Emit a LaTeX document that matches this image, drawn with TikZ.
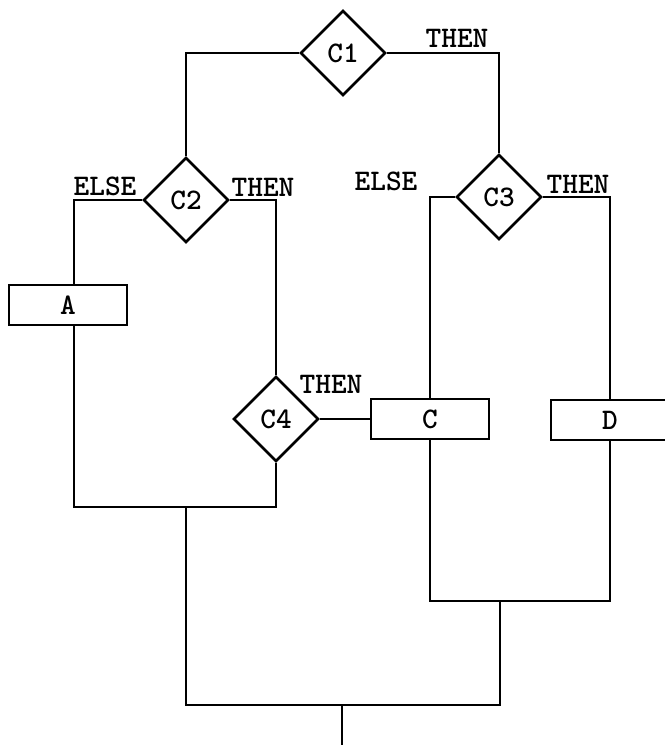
\documentclass[tikz,border=0pt]{standalone}
\usepackage{fontspec}
\usepackage{tikz}
\usetikzlibrary{shapes.geometric}
\tikzset{cond/.style={draw, diamond, aspect=1, minimum size=1.7cm, inner sep=0pt, font=\ttfamily\bfseries\fontsize{17}{17}\selectfont}}
\tikzset{blk/.style={draw, rectangle, minimum width=2.36cm, minimum height=0.8cm, inner sep=0pt, font=\ttfamily\bfseries\fontsize{17}{17}\selectfont}}
\tikzset{lbl/.style={inner sep=0pt, font=\ttfamily\bfseries\fontsize{17}{17}\selectfont}}

\begin{document}
\begin{tikzpicture}[x=0.02cm,y=-0.02cm,line width=1.5pt]
\useasboundingbox (0,0) rectangle (665,750);
% decisions
\node[cond] (c1) at (343,53) {C1};
\node[cond] (c2) at (186,200) {C2};
\node[cond] (c3) at (499,197) {C3};
\node[cond] (c4) at (276,419) {C4};
% blocks
\node[blk] (a) at (68,305) {A};
\node[blk] (c) at (430,419) {C};
\node[blk] (d) at (610,420) {D};
% branch labels
\node[lbl] (t1) at (457,38) {THEN};
\node[lbl] (e2) at (105,186) {ELSE};
\node[lbl] (t2) at (263,187) {THEN};
\node[lbl] (e3) at (386,181) {ELSE};
\node[lbl] (t3) at (578,184) {THEN};
\node[lbl] (t4) at (331,384) {THEN};
% helper points
\coordinate (ea) at (74,200);
\coordinate (ab) at (74,507);
\coordinate (j1) at (186,507);
\coordinate (cd) at (435,601);
\coordinate (j2) at (500,601);
\coordinate (jb) at (186,705);
\coordinate (jc) at (500,705);
\coordinate (out) at (342,745);
% connectors
\draw (c1.west) -| (c2.north);
\draw (c1.east) -| (c3.north);
\draw (c2.west) -- (ea) -- (ea |- a.north);
\draw (c2.east) -| (c4.north);
\draw (c3.west) -| (c.north);
\draw (c3.east) -| (d.north);
\draw (c4.east) -- (c.west);
\draw (ab |- a.south) -- (ab) -| (c4.south);
\draw (c.south) -- (c.south |- cd) -- (d.south |- cd) -- (d.south);
\draw (j1) -- (jb) -- (jc) -- (j2);
\draw (out |- jb) -- (out);
\end{tikzpicture}
\end{document}
